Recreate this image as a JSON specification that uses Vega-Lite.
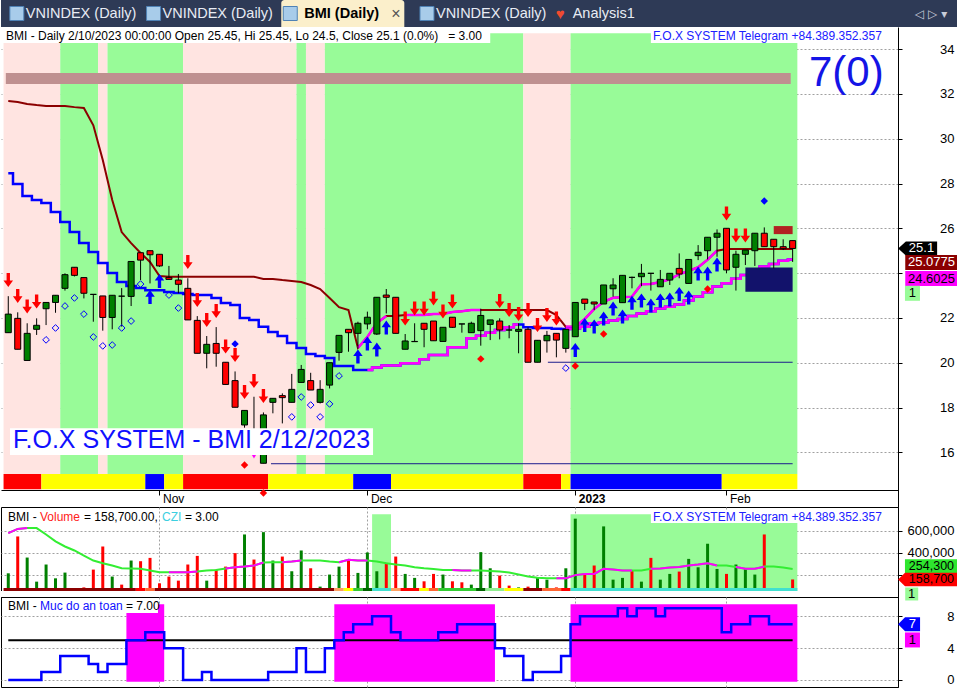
{
"$schema":"https://vega.github.io/schema/vega-lite/v6.json",
"padding":0,"background":"#ffffff","spacing":0,"bounds":"flush",
"config":{"font":"Liberation Sans","view":{"stroke":null}},
"resolve":{"scale":{"x":"independent","y":"independent","color":"independent"}},
"datasets":{
"tabs":[{"t":"a","l":"VNINDEX (Daily)","k":"tab"},{"t":"b","l":"VNINDEX (Daily)","k":"tab"},{"t":"c","l":"BMI (Daily)","k":"on"},{"t":"d","l":"VNINDEX (Daily)","k":"tab"},{"t":"e","l":"Analysis1","k":"ana"}],
"bands":[{"s":"bear","a":-0.5,"b":5.5},{"s":"bull","a":5.5,"b":9.5},{"s":"bear","a":9.5,"b":10.5},{"s":"bull","a":10.5,"b":18.5},{"s":"bear","a":18.5,"b":30.5},{"s":"bull","a":30.5,"b":31.5},{"s":"bear","a":31.5,"b":33.5},{"s":"bull","a":33.5,"b":54.5},{"s":"bear","a":54.5,"b":59.5},{"s":"bull","a":59.5,"b":83.5}],
"strip":[{"s":"sell","a":-0.5,"b":3.5},{"s":"neutral","a":3.5,"b":14.5},{"s":"buy","a":14.5,"b":16.5},{"s":"neutral","a":16.5,"b":18.5},{"s":"sell","a":18.5,"b":27.5},{"s":"neutral","a":27.5,"b":36.5},{"s":"buy","a":36.5,"b":40.5},{"s":"neutral","a":40.5,"b":54.5},{"s":"sell","a":54.5,"b":58.5},{"s":"neutral","a":58.5,"b":59.5},{"s":"buy","a":59.5,"b":75.5},{"s":"neutral","a":75.5,"b":83.5}],
"vstrip":[{"k":"c1","a":-0.5,"b":13.5},{"k":"c2","a":13.5,"b":14.5},{"k":"c3","a":14.5,"b":15.5},{"k":"c1","a":15.5,"b":34.5},{"k":"c4","a":34.5,"b":35.5},{"k":"c5","a":35.5,"b":36.5},{"k":"c6","a":36.5,"b":37.5},{"k":"c7","a":37.5,"b":38.5},{"k":"c8","a":38.5,"b":40.5},{"k":"c4","a":40.5,"b":41.5},{"k":"c2","a":41.5,"b":43.5},{"k":"c5","a":43.5,"b":44.5},{"k":"c3","a":44.5,"b":45.5},{"k":"c6","a":45.5,"b":49.5},{"k":"c7","a":49.5,"b":50.5},{"k":"c9","a":50.5,"b":52.5},{"k":"c5","a":52.5,"b":54.5},{"k":"c1","a":54.5,"b":56.5},{"k":"c3","a":56.5,"b":58.5},{"k":"c2","a":58.5,"b":59.5},{"k":"c8","a":59.5,"b":83.5}],
"vbands":[{"a":38.5,"b":40.5},{"a":59.5,"b":83.5}],
"sbands":[{"a":12.5,"b":16.5},{"a":34.5,"b":51.5},{"a":59.5,"b":83.5}],
"hlines":[{"a":57.1,"b":83,"p":20.02},{"a":27.8,"b":83,"p":15.49}],
"sells":[{"i":0,"p":23.69},{"i":1,"p":22.98},{"i":2,"p":22.51},{"i":3,"p":22.73},{"i":19,"p":24.5},{"i":20,"p":22.8},{"i":21,"p":21.91},{"i":22,"p":22.31},{"i":23,"p":20.72},{"i":24,"p":20.34},{"i":25,"p":18.69},{"i":26,"p":19.18},{"i":27,"p":18.51},{"i":42,"p":21.97},{"i":43,"p":22.42},{"i":44,"p":22.42},{"i":45,"p":22.87},{"i":46,"p":22.29},{"i":47,"p":22.73},{"i":52,"p":22.75},{"i":53,"p":22.35},{"i":54,"p":22.17},{"i":55,"p":22.35},{"i":56,"p":21.68},{"i":57,"p":22.13},{"i":58,"p":21.97},{"i":76,"p":26.66},{"i":77,"p":25.68},{"i":78,"p":25.68}],
"buys":[{"i":15,"p":22.93},{"i":16,"p":23.65},{"i":37,"p":20.28},{"i":38,"p":20.86},{"i":39,"p":20.59},{"i":40,"p":21.57},{"i":60,"p":20.57},{"i":61,"p":21.68},{"i":62,"p":21.62},{"i":63,"p":21.97},{"i":64,"p":22.42},{"i":65,"p":22.06},{"i":66,"p":22.68},{"i":67,"p":22.78},{"i":68,"p":22.55},{"i":69,"p":22.78},{"i":70,"p":22.82},{"i":71,"p":23.07},{"i":72,"p":22.91},{"i":73,"p":23.98},{"i":74,"p":23.98},{"i":75,"p":24.38}],
"hdia":[{"i":4,"p":21.02},{"i":5,"p":21.55},{"i":6,"p":22.53},{"i":7,"p":22.89},{"i":8,"p":22.17},{"i":9,"p":21.15},{"i":10,"p":20.75},{"i":11,"p":20.79},{"i":12,"p":21.55},{"i":13,"p":21.86},{"i":14,"p":23.51},{"i":17,"p":23.02},{"i":18,"p":22.44},{"i":30,"p":17.58},{"i":31,"p":18.47},{"i":32,"p":18.11},{"i":33,"p":17.58},{"i":34,"p":18.16},{"i":35,"p":19.41},{"i":59,"p":19.76}],
"rdia":[{"i":25,"p":15.43},{"i":27,"p":14.18},{"i":50,"p":20.17},{"i":60,"p":19.85},{"i":63,"p":21.28},{"i":74,"p":23.29}],
"bdia":[{"i":24,"p":20.84},{"i":80,"p":27.22}],
"mdot":[{"i":26,"p":15.88}],
"bars":[
{"i":0,"o":21.34,"h":22.97,"l":21.34,"c":22.17,"v":214500,"ma":578000,"mam":578000,"t1":31.68,"t2":28.46,"s":0},
{"i":1,"o":21.98,"h":22.25,"l":20.6,"c":20.6,"v":548000,"ma":616000,"mam":616000,"t1":31.64,"t2":27.98,"s":0},
{"i":2,"o":20.1,"h":21.76,"l":20.1,"c":21.31,"v":357000,"ma":624000,"mam":624000,"t1":31.55,"t2":27.44,"s":0},
{"i":3,"o":21.49,"h":21.98,"l":21.24,"c":21.67,"v":139000,"ma":624000,"t1":31.5,"t2":27.26,"s":0},
{"i":4,"o":22.41,"h":22.69,"l":21.68,"c":22.69,"v":294000,"ma":566000,"t1":31.46,"t2":27.13,"s":1},
{"i":5,"o":22.69,"h":23.01,"l":22.23,"c":23.01,"v":169000,"ma":503000,"t1":31.46,"t2":26.73,"s":1},
{"i":6,"o":23.32,"h":23.99,"l":23.22,"c":23.93,"v":221000,"ma":457000,"t1":31.46,"t2":26.28,"s":3},
{"i":7,"o":24.26,"h":24.26,"l":23.85,"c":23.9,"v":30000,"ma":421000,"t1":31.41,"t2":25.83,"s":3},
{"i":8,"o":23.8,"h":23.8,"l":22.87,"c":23.1,"v":87000,"ma":375000,"t1":31.37,"t2":25.34,"s":3},
{"i":9,"o":23.05,"h":23.05,"l":21.83,"c":23.05,"v":248000,"ma":330000,"t1":30.6,"t2":24.94,"s":2},
{"i":10,"o":22.98,"h":22.98,"l":21.43,"c":22.02,"v":457000,"ma":305000,"t1":29.05,"t2":24.45,"s":1},
{"i":11,"o":22.02,"h":23.01,"l":21.49,"c":23.01,"v":185000,"ma":285000,"t1":27.26,"t2":24.0,"s":2},
{"i":12,"o":22.97,"h":23.33,"l":21.61,"c":22.97,"v":112000,"ma":260000,"t1":25.83,"t2":23.6,"s":2},
{"i":13,"o":22.96,"h":24.52,"l":22.53,"c":24.52,"v":330000,"ma":257000,"t1":25.34,"t2":23.42,"s":5},
{"i":14,"o":24.91,"h":24.91,"l":23.69,"c":24.58,"v":324000,"ma":255000,"t1":24.9,"t2":23.33,"s":5},
{"i":15,"o":25.0,"h":25.0,"l":23.54,"c":24.82,"v":354000,"ma":239000,"t1":24.5,"t2":23.24,"s":6},
{"i":16,"o":24.84,"h":24.84,"l":24.28,"c":24.32,"v":124000,"ma":224000,"t1":23.87,"t2":23.24,"s":6},
{"i":17,"o":23.81,"h":24.32,"l":23.72,"c":23.72,"v":185000,"ma":224000,"mam":224000,"t1":23.84,"t2":23.16,"s":4},
{"i":18,"o":23.69,"h":23.96,"l":23.1,"c":23.5,"v":148000,"ma":224000,"mam":224000,"t1":23.84,"t2":23.11,"s":4},
{"i":19,"o":23.32,"h":23.77,"l":21.91,"c":21.91,"v":294000,"ma":224000,"mam":224000,"t1":23.84,"t2":23.07,"s":0},
{"i":20,"o":21.89,"h":22.08,"l":20.42,"c":20.42,"v":372000,"ma":230000,"mam":230000,"t1":23.84,"t2":23.02,"s":0},
{"i":21,"o":20.42,"h":21.19,"l":19.75,"c":20.82,"v":148000,"ma":239000,"t1":23.84,"t2":23.02,"s":1},
{"i":22,"o":20.86,"h":21.59,"l":19.82,"c":20.42,"v":248000,"ma":245000,"t1":23.84,"t2":22.89,"s":0},
{"i":23,"o":20.02,"h":20.02,"l":19.03,"c":19.03,"v":275000,"ma":257000,"mam":257000,"t1":23.84,"t2":22.67,"s":0},
{"i":24,"o":19.2,"h":19.61,"l":18.01,"c":18.01,"v":397000,"ma":269000,"mam":269000,"t1":23.84,"t2":22.58,"s":0},
{"i":25,"o":17.22,"h":17.87,"l":17.1,"c":17.87,"v":566000,"ma":275000,"mam":275000,"t1":23.84,"t2":22.0,"s":0},
{"i":26,"o":16.9,"h":18.48,"l":16.3,"c":16.6,"v":339000,"ma":285000,"mam":285000,"t1":23.84,"t2":21.91,"s":0},
{"i":27,"o":15.51,"h":17.78,"l":15.51,"c":17.67,"v":587000,"ma":312000,"mam":312000,"t1":23.74,"t2":21.6,"s":0},
{"i":28,"o":18.23,"h":18.41,"l":17.74,"c":18.41,"v":330000,"ma":315000,"t1":23.74,"t2":21.37,"s":1},
{"i":29,"o":18.53,"h":18.63,"l":17.29,"c":18.44,"v":366000,"ma":315000,"mam":315000,"t1":23.69,"t2":21.19,"s":1},
{"i":30,"o":18.23,"h":19.5,"l":18.23,"c":18.81,"v":233000,"ma":321000,"mam":321000,"t1":23.65,"t2":20.88,"s":1},
{"i":31,"o":19.12,"h":19.9,"l":19.12,"c":19.7,"v":421000,"ma":330000,"mam":330000,"t1":23.6,"t2":20.66,"s":4},
{"i":32,"o":19.2,"h":19.55,"l":18.78,"c":18.78,"v":260000,"ma":330000,"t1":23.47,"t2":20.39,"s":1},
{"i":33,"o":18.23,"h":19.22,"l":18.18,"c":18.81,"v":94000,"ma":330000,"t1":23.29,"t2":20.3,"s":1},
{"i":34,"o":19.0,"h":20.0,"l":18.85,"c":20.0,"v":203000,"ma":321000,"t1":22.89,"t2":20.21,"s":4},
{"i":35,"o":20.46,"h":21.22,"l":20.09,"c":21.22,"v":275000,"ma":315000,"mam":315000,"t1":22.48,"t2":19.85,"s":5},
{"i":36,"o":21.49,"h":21.49,"l":20.49,"c":21.34,"v":339000,"ma":336000,"mam":336000,"t1":22.35,"t2":19.85,"s":6},
{"i":37,"o":21.31,"h":21.83,"l":20.64,"c":21.76,"v":218000,"ma":330000,"mam":330000,"t1":20.66,"t1m":20.66,"t2":19.67,"s":7},
{"i":38,"o":21.73,"h":22.28,"l":21.49,"c":22.03,"v":403000,"ma":330000,"mam":330000,"t1":21.15,"t1m":21.15,"t2":19.67,"t2m":19.67,"s":7},
{"i":39,"o":21.28,"h":22.92,"l":21.24,"c":22.92,"v":233000,"ma":321000,"t1":21.77,"t1m":21.77,"t2":19.79,"t2m":19.79,"s":8},
{"i":40,"o":23.02,"h":23.29,"l":22.2,"c":22.92,"v":309000,"ma":305000,"t1":22.08,"t1m":22.08,"t2":19.87,"t2m":19.87,"s":8},
{"i":41,"o":22.92,"h":22.92,"l":21.31,"c":21.31,"v":366000,"ma":294000,"t1":22.08,"t2":19.87,"t2m":19.87,"s":6},
{"i":42,"o":20.6,"h":21.28,"l":20.6,"c":20.97,"v":209000,"ma":285000,"t1":22.13,"t1m":22.13,"t2":19.97,"t2m":19.97,"s":5},
{"i":43,"o":20.94,"h":21.76,"l":20.94,"c":20.95,"v":173000,"ma":269000,"t1":22.13,"t1m":22.13,"t2":19.97,"t2m":19.97,"s":5},
{"i":44,"o":21.76,"h":21.76,"l":20.69,"c":21.49,"v":142000,"ma":260000,"t1":22.13,"t1m":22.13,"t2":20.15,"t2m":20.15,"s":5},
{"i":45,"o":21.86,"h":21.86,"l":20.98,"c":20.98,"v":209000,"ma":253000,"t1":22.17,"t1m":22.17,"t2":20.34,"t2m":20.34,"s":5},
{"i":46,"o":20.95,"h":21.58,"l":20.95,"c":21.58,"v":203000,"ma":245000,"t1":22.17,"t1m":22.17,"t2":20.34,"t2m":20.34,"s":6},
{"i":47,"o":22.03,"h":22.03,"l":21.55,"c":21.58,"v":142000,"ma":244000,"mam":244000,"t1":22.26,"t1m":22.26,"t2":20.69,"t2m":20.69,"s":6},
{"i":48,"o":21.73,"h":21.73,"l":21.34,"c":21.73,"v":133000,"ma":239000,"mam":239000,"t1":22.3,"t1m":22.3,"t2":20.69,"t2m":20.69,"s":7},
{"i":49,"o":21.34,"h":21.83,"l":21.34,"c":21.76,"v":112000,"ma":239000,"mam":239000,"t1":22.35,"t1m":22.35,"t2":21.09,"t2m":21.09,"s":7},
{"i":50,"o":21.43,"h":22.41,"l":20.76,"c":22.11,"v":406000,"ma":239000,"t1":22.35,"t1m":22.35,"t2":21.2,"t2m":21.2,"s":7},
{"i":51,"o":21.71,"h":21.91,"l":21.01,"c":21.91,"v":260000,"ma":235000,"t1":22.35,"t2":21.34,"t2m":21.34,"s":7},
{"i":52,"o":21.86,"h":21.98,"l":21.04,"c":21.46,"v":194000,"ma":230000,"t1":22.35,"t2":21.46,"t2m":21.46,"s":4},
{"i":53,"o":21.46,"h":21.68,"l":21.09,"c":21.46,"v":103000,"ma":221000,"t1":22.35,"t2":21.58,"t2m":21.58,"s":3},
{"i":54,"o":21.4,"h":21.76,"l":20.42,"c":21.49,"v":87000,"ma":203000,"t1":22.35,"t2":21.71,"t2m":21.71,"s":3},
{"i":55,"o":21.49,"h":21.58,"l":20.02,"c":20.02,"v":94000,"ma":185000,"t1":22.35,"t2":21.58,"s":0},
{"i":56,"o":20.02,"h":21.0,"l":20.02,"c":21.0,"v":173000,"ma":175000,"t1":22.35,"t2":21.55,"s":1},
{"i":57,"o":20.98,"h":21.42,"l":20.45,"c":21.22,"v":157000,"ma":169000,"t1":22.35,"t2":21.55,"s":1},
{"i":58,"o":21.31,"h":21.31,"l":20.24,"c":21.01,"v":87000,"ma":169000,"mam":169000,"t1":22.13,"t2":21.52,"s":1},
{"i":59,"o":20.64,"h":21.49,"l":20.45,"c":21.49,"v":260000,"ma":169000,"mam":169000,"t1":21.6,"t1m":21.6,"t2":21.5,"t2m":21.5,"s":3},
{"i":60,"o":21.16,"h":22.69,"l":21.16,"c":22.69,"v":709000,"ma":198000,"mam":198000,"t1":21.62,"t1m":21.62,"t2":21.53,"t2m":21.53,"s":7},
{"i":61,"o":22.84,"h":22.84,"l":22.35,"c":22.65,"v":203000,"ma":209000,"mam":209000,"t1":21.95,"t1m":21.95,"t2":21.6,"t2m":21.6,"s":8},
{"i":62,"o":22.71,"h":22.71,"l":22.35,"c":22.62,"v":285000,"ma":209000,"mam":209000,"t1":22.4,"t1m":22.4,"t2":21.76,"t2m":21.76,"s":8},
{"i":63,"o":22.62,"h":23.47,"l":22.62,"c":23.47,"v":639000,"ma":255000,"mam":255000,"t1":22.72,"t1m":22.72,"t2":21.8,"t2m":21.8,"s":8},
{"i":64,"o":23.3,"h":23.77,"l":22.95,"c":23.47,"v":157000,"ma":248000,"mam":248000,"t1":22.9,"t1m":22.9,"t2":21.88,"t2m":21.88,"s":8},
{"i":65,"o":22.68,"h":23.9,"l":22.68,"c":23.9,"v":173000,"ma":239000,"mam":239000,"t1":22.92,"t1m":22.92,"t2":21.95,"t2m":21.95,"s":9},
{"i":66,"o":23.81,"h":23.84,"l":23.32,"c":23.81,"v":239000,"ma":239000,"mam":239000,"t1":22.95,"t1m":22.95,"t2":22.08,"t2m":22.08,"s":8},
{"i":67,"o":23.84,"h":24.41,"l":23.42,"c":23.99,"v":139000,"ma":239000,"t1":23.5,"t1m":23.5,"t2":22.2,"t2m":22.2,"s":9},
{"i":68,"o":23.99,"h":23.99,"l":23.22,"c":23.99,"v":354000,"ma":255000,"mam":255000,"t1":23.51,"t1m":23.51,"t2":22.3,"t2m":22.3,"s":9},
{"i":69,"o":23.39,"h":24.14,"l":23.39,"c":23.72,"v":157000,"ma":257000,"mam":257000,"t1":23.6,"t1m":23.6,"t2":22.42,"t2m":22.42,"s":8},
{"i":70,"o":23.69,"h":23.99,"l":23.47,"c":23.99,"v":209000,"ma":266000,"mam":266000,"t1":23.72,"t1m":23.72,"t2":22.5,"t2m":22.5,"s":9},
{"i":71,"o":24.21,"h":24.88,"l":23.77,"c":23.96,"v":230000,"ma":271000,"mam":271000,"t1":23.95,"t1m":23.95,"t2":22.6,"t2m":22.6,"s":9},
{"i":72,"o":23.54,"h":24.61,"l":23.54,"c":24.61,"v":345000,"ma":285000,"mam":285000,"t1":24.1,"t1m":24.1,"t2":22.78,"t2m":22.78,"s":9},
{"i":73,"o":24.78,"h":25.25,"l":24.58,"c":24.93,"v":269000,"ma":294000,"mam":294000,"t1":24.26,"t1m":24.26,"t2":22.95,"t2m":22.95,"s":9},
{"i":74,"o":25.0,"h":25.6,"l":24.61,"c":25.6,"v":482000,"ma":305000,"mam":305000,"t1":24.6,"t1m":24.6,"t2":23.15,"t2m":23.15,"s":9},
{"i":75,"o":25.6,"h":25.95,"l":24.73,"c":25.78,"v":254000,"ma":285000,"mam":285000,"t1":25.0,"t1m":25.0,"t2":23.4,"t2m":23.4,"s":9},
{"i":76,"o":26.0,"h":26.0,"l":23.99,"c":24.14,"v":209000,"ma":285000,"t1":25.08,"t2":23.55,"t2m":23.55,"s":6},
{"i":77,"o":24.26,"h":25.0,"l":23.22,"c":24.84,"v":294000,"ma":271000,"mam":271000,"t1":25.08,"t2":23.75,"t2m":23.75,"s":7},
{"i":78,"o":24.84,"h":25.03,"l":24.36,"c":25.03,"v":254000,"ma":255000,"mam":255000,"t1":25.08,"t2":23.92,"t2m":23.92,"s":7},
{"i":79,"o":25.0,"h":25.78,"l":24.32,"c":25.78,"v":203000,"ma":255000,"mam":255000,"t1":25.08,"t2":24.1,"t2m":24.1,"s":8},
{"i":80,"o":25.78,"h":26.04,"l":25.18,"c":25.18,"v":566000,"ma":275000,"mam":275000,"t1":25.08,"t2":24.29,"t2m":24.29,"s":8},
{"i":81,"o":25.51,"h":25.51,"l":24.21,"c":25.18,"v":78000,"ma":275000,"t1":25.08,"t2":24.41,"t2m":24.41,"s":7},
{"i":82,"o":25.18,"h":25.51,"l":25.03,"c":25.09,"v":57000,"ma":266000,"t1":25.08,"t2":24.55,"t2m":24.55,"s":7},
{"i":83,"o":25.45,"h":25.45,"l":24.5,"c":25.1,"v":158700,"ma":254300,"t1":25.0775,"t2":24.6025,"t2m":24.6025,"s":7}
]},
"vconcat":[
{"width":957,"height":27,"view":{"fill":"#2E3A56","stroke":null},
 "data":{"name":"tabs"},
 "layer":[
  {"transform":[{"filter":"datum.k=='on'"}],"mark":{"type":"rect","color":"#FBEFCB","cornerRadiusTopLeft":3,"cornerRadiusTopRight":3},
   "encoding":{"x":{"field":"t","type":"nominal","scale":{"type":"band","domain":["a","b","c","d","e","f","g"],"paddingInner":0.1,"paddingOuter":0.05},"axis":null}}},
  {"transform":[{"filter":"datum.k!='ana'"}],"mark":{"type":"point","shape":"square","size":196,"filled":true,"color":"#A8CCEA","stroke":"#4F82B5","strokeWidth":1,"opacity":1,"xOffset":9},
   "encoding":{"x":{"field":"t","type":"nominal","bandPosition":0}}},
  {"transform":[{"filter":"datum.k=='ana'"}],"mark":{"type":"text","text":"♥","color":"#F04A30","fontSize":15,"align":"left","dx":1},
   "encoding":{"x":{"field":"t","type":"nominal","bandPosition":0}}},
  {"transform":[{"filter":"datum.k!='on'"}],"mark":{"type":"text","align":"left","dx":18,"fontSize":14.5,"color":"#E8ECF4"},
   "encoding":{"x":{"field":"t","type":"nominal","bandPosition":0},"text":{"field":"l"}}},
  {"transform":[{"filter":"datum.k=='on'"}],"mark":{"type":"text","align":"left","dx":23,"fontSize":14.5,"fontWeight":"bold","color":"#000000"},
   "encoding":{"x":{"field":"t","type":"nominal","bandPosition":0},"text":{"field":"l"}}},
  {"transform":[{"filter":"datum.k=='on'"}],"mark":{"type":"text","text":"×","align":"left","dx":110,"fontSize":16,"color":"#555555"},
   "encoding":{"x":{"field":"t","type":"nominal","bandPosition":0}}},
  {"data":{"values":[{"t":"g"}]},"mark":{"type":"text","text":"◁  ▷  ▾","align":"right","dx":-4,"fontSize":12,"font":"DejaVu Sans","color":"#C8CCD8"},
   "encoding":{"x":{"field":"t","type":"nominal","bandPosition":1}}}
 ]},
{"width":897,"height":480,"view":{"stroke":null},
 "resolve":{"scale":{"color":"independent"}},
 "layer":[
  {"data":{"name":"bands"},"mark":{"type":"rect"},
   "encoding":{"x":{"field":"a","type":"quantitative","scale":{"domain":[-0.77,94.15],"nice":false,"zero":false,"padding":0},
      "axis":{"orient":"bottom","offset":-17,"values":[16,38,60,76],"labelExpr":"datum.value==16?'Nov':datum.value==38?'Dec':datum.value==60?'2023':'Feb'","labelAlign":"left","labelBaseline":"top","labelOffset":3,"labelPadding":-2,"tickSize":5,"tickColor":"#000000","domainColor":"#000000","labelColor":"#000000","labelFontSize":12,"labelFontWeight":{"condition":{"test":"datum.value==60","value":"bold"},"value":"normal"},"grid":false,"title":null,"labelFlush":false,"labelOverlap":false}},
    "x2":{"field":"b"},
    "y":{"datum":34.71,"type":"quantitative","scale":{"domain":[13.558,34.987],"nice":false,"zero":false},
      "axis":{"orient":"right","values":[16,18,20,22,24,26,28,30,32,34],"labelExpr":"datum.value==24?'':datum.label","tickSize":4,"labelAlign":"right","labelBaseline":"middle","labelPadding":52,"labelFontSize":13,"labelColor":"#000000","tickColor":"#000000","domainColor":"#000000","grid":true,"gridColor":"#A0A0A0","gridDash":[2,2],"title":null}},
    "y2":{"datum":15.03},
    "color":{"field":"s","type":"nominal","scale":{"domain":["bear","bull"],"range":["#FFE4E1","#98FB98"]},"legend":null}}},
  {"data":{"values":[{"a":-0.77,"b":51},{"a":68.0,"b":92.8}]},"mark":{"type":"rect","color":"#FFFFFF"},
   "encoding":{"x":{"field":"a","type":"quantitative"},"x2":{"field":"b"},"y":{"datum":34.987},"y2":{"datum":34.27}}},
  {"data":{"values":[{}]},"mark":{"type":"rect","color":"#BF9090"},
   "encoding":{"x":{"datum":-0.26},"x2":{"datum":82.8},"y":{"datum":32.93},"y2":{"datum":32.44}}},
  {"data":{"name":"strip"},"mark":{"type":"rect"},
   "encoding":{"x":{"field":"a","type":"quantitative"},"x2":{"field":"b"},"y":{"datum":15.03},"y2":{"datum":14.35},
    "color":{"field":"s","type":"nominal","scale":{"domain":["sell","neutral","buy"],"range":["#FF0000","#FFFF00","#0000FF"]},"legend":null}}},
  {"data":{"name":"hlines"},"mark":{"type":"rule","color":"#1C1C8C","strokeWidth":1},
   "encoding":{"x":{"field":"a","type":"quantitative"},"x2":{"field":"b"},"y":{"field":"p","type":"quantitative"}}},
  {"data":{"name":"bars"},"mark":{"type":"line","color":"#8B0000","strokeWidth":2},
   "encoding":{"x":{"field":"i","type":"quantitative"},"y":{"field":"t1","type":"quantitative"}}},
  {"data":{"name":"bars"},"mark":{"type":"line","color":"#FF00FF","strokeWidth":2.5,"invalid":"break-paths-show-domains"},
   "encoding":{"x":{"field":"i","type":"quantitative"},"y":{"field":"t1m","type":"quantitative"}}},
  {"data":{"name":"bars"},"mark":{"type":"line","color":"#0000FF","strokeWidth":2.5,"interpolate":"step"},
   "encoding":{"x":{"field":"i","type":"quantitative"},"y":{"field":"t2","type":"quantitative"}}},
  {"data":{"name":"bars"},"mark":{"type":"line","color":"#FF00FF","strokeWidth":2.5,"interpolate":"step","invalid":"break-paths-show-domains"},
   "encoding":{"x":{"field":"i","type":"quantitative"},"y":{"field":"t2m","type":"quantitative"}}},
  {"data":{"values":[{}]},"mark":{"type":"rect","color":"#12126B"},
   "encoding":{"x":{"datum":78},"x2":{"datum":83},"y":{"datum":24.25},"y2":{"datum":23.17}}},
  {"data":{"values":[{}]},"mark":{"type":"rect","color":"#B22222"},
   "encoding":{"x":{"datum":81},"x2":{"datum":83},"y":{"datum":26.1},"y2":{"datum":25.74}}},
  {"data":{"name":"bars"},"mark":{"type":"rule","color":"#000000","strokeWidth":1},
   "encoding":{"x":{"field":"i","type":"quantitative"},"y":{"field":"l","type":"quantitative"},"y2":{"field":"h"}}},
  {"data":{"name":"bars"},"mark":{"type":"bar","width":6,"orient":"vertical","stroke":"#000000","strokeWidth":1},
   "encoding":{"x":{"field":"i","type":"quantitative"},"y":{"field":"o","type":"quantitative"},"y2":{"field":"c"},
    "color":{"condition":{"test":"datum.c>datum.o","value":"#008000"},"value":"#FF0000"}}},
  {"data":{"name":"sells"},"mark":{"type":"point","shape":"M0,1L0.68,0.05L0.24,0.05L0.24,-1L-0.24,-1L-0.24,0.05L-0.68,0.05Z","size":196,"filled":true,"color":"#FF0000","opacity":1,"strokeWidth":0},
   "encoding":{"x":{"field":"i","type":"quantitative"},"y":{"field":"p","type":"quantitative"}}},
  {"data":{"name":"buys"},"mark":{"type":"point","shape":"M0,-1L0.68,-0.05L0.24,-0.05L0.24,1L-0.24,1L-0.24,-0.05L-0.68,-0.05Z","size":196,"filled":true,"color":"#0000FF","opacity":1,"strokeWidth":0},
   "encoding":{"x":{"field":"i","type":"quantitative"},"y":{"field":"p","type":"quantitative"}}},
  {"data":{"name":"hdia"},"mark":{"type":"point","shape":"diamond","size":45,"filled":false,"color":"#0000FF","opacity":1,"strokeWidth":1},
   "encoding":{"x":{"field":"i","type":"quantitative"},"y":{"field":"p","type":"quantitative"}}},
  {"data":{"name":"rdia"},"mark":{"type":"point","shape":"diamond","size":55,"filled":true,"color":"#FF0000","opacity":1},
   "encoding":{"x":{"field":"i","type":"quantitative"},"y":{"field":"p","type":"quantitative"}}},
  {"data":{"name":"bdia"},"mark":{"type":"point","shape":"diamond","size":55,"filled":true,"color":"#0000FF","opacity":1},
   "encoding":{"x":{"field":"i","type":"quantitative"},"y":{"field":"p","type":"quantitative"}}},
  {"data":{"name":"mdot"},"mark":{"type":"point","shape":"triangle-down","size":70,"filled":true,"color":"#FF00FF","opacity":1},
   "encoding":{"x":{"field":"i","type":"quantitative"},"y":{"field":"p","type":"quantitative"}}},
  {"data":{"values":[{}]},"mark":{"type":"rect","color":"#FFFFFF"},
   "encoding":{"x":{"datum":0.18},"x2":{"datum":38.6},"y":{"datum":17.07},"y2":{"datum":15.88}}},
  {"data":{"values":[{}]},"mark":{"type":"text","text":"F.O.X SYSTEM - BMI 2/12/2023","color":"#1010FF","fontSize":25,"align":"left","baseline":"alphabetic"},
   "encoding":{"x":{"datum":0.5},"y":{"datum":16.17}}},
  {"data":{"values":[{}]},"mark":{"type":"text","text":"BMI - Daily 2/10/2023 00:00:00 Open 25.45, Hi 25.45, Lo 24.5, Close 25.1 (0.0%) \u00a0 = 3.00","color":"#000000","fontSize":12,"align":"left","baseline":"middle","dx":5},
   "encoding":{"x":{"datum":-0.77},"y":{"datum":34.6}}},
  {"data":{"values":[{}]},"mark":{"type":"text","text":"F.O.X SYSTEM Telegram +84.389.352.357","color":"#2020FF","fontSize":12,"align":"left","baseline":"middle"},
   "encoding":{"x":{"datum":68.22},"y":{"datum":34.6}}},
  {"data":{"values":[{}]},"mark":{"type":"text","text":"7(0)","color":"#1414E6","fontSize":42,"align":"left","baseline":"alphabetic"},
   "encoding":{"x":{"datum":84.73},"y":{"datum":32.35}}},
  {"data":{"values":[{}]},"mark":{"type":"point","shape":"M-1,0L-0.605,-0.359L1,-0.359L1,0.359L-0.605,0.359Z","size":1521,"filled":true,"color":"#000000","opacity":1,"strokeWidth":0},
   "encoding":{"x":{"datum":96.23},"y":{"datum":25.1}}},
  {"data":{"values":[{}]},"mark":{"type":"text","text":"25.1","color":"#FFFFFF","fontSize":13,"align":"center","baseline":"middle"},
   "encoding":{"x":{"datum":96.64},"y":{"datum":25.1}}},
  {"data":{"values":[{}]},"mark":{"type":"point","shape":"M-1,-0.286L1,-0.286L1,0.286L-1,0.286Z","size":2746,"filled":true,"color":"#8B0000","opacity":1,"strokeWidth":0,"yOffset":13.5},
   "encoding":{"x":{"datum":97.69},"y":{"datum":25.0775}}},
  {"data":{"values":[{}]},"mark":{"type":"text","text":"25.0775","color":"#FFFFFF","fontSize":13,"align":"center","baseline":"middle","dy":13.5},
   "encoding":{"x":{"datum":97.69},"y":{"datum":25.0775}}},
  {"data":{"values":[{}]},"mark":{"type":"point","shape":"M-1,-0.286L1,-0.286L1,0.286L-1,0.286Z","size":2746,"filled":true,"color":"#FF00FF","opacity":1,"strokeWidth":0,"yOffset":18.9},
   "encoding":{"x":{"datum":97.69},"y":{"datum":24.6025}}},
  {"data":{"values":[{}]},"mark":{"type":"text","text":"24.6025","color":"#000000","fontSize":13,"align":"center","baseline":"middle","dy":18.9},
   "encoding":{"x":{"datum":97.69},"y":{"datum":24.6025}}},
  {"data":{"values":[{}]},"mark":{"type":"point","shape":"square","size":225,"filled":true,"color":"#98FB98","opacity":1,"strokeWidth":0,"yOffset":33.7},
   "encoding":{"x":{"datum":95.68},"y":{"datum":24.6025}}},
  {"data":{"values":[{}]},"mark":{"type":"text","text":"1","color":"#000000","fontSize":13,"align":"center","baseline":"middle","dy":33.7},
   "encoding":{"x":{"datum":95.68},"y":{"datum":24.6025}}}
 ]},
{"width":897,"height":90,"view":{"stroke":"#000000","strokeWidth":1},
 "layer":[
  {"data":{"name":"vbands"},"mark":{"type":"rect","color":"#98FB98"},
   "encoding":{"x":{"field":"a","type":"quantitative","scale":{"domain":[-0.77,94.15],"nice":false,"zero":false,"padding":0},
      "axis":{"orient":"bottom","values":[16,38,60,76],"labels":false,"ticks":false,"domain":false,"grid":true,"gridColor":"#A0A0A0","gridDash":[2,2],"title":null}},
    "x2":{"field":"b"},
    "y":{"datum":748400,"type":"quantitative","scale":{"domain":[0,814500],"nice":false,"zero":false},
      "axis":{"orient":"right","values":[200000,400000,600000],"format":",d","labelExpr":"datum.value==200000?'':datum.label","tickSize":4,"labelAlign":"right","labelBaseline":"middle","labelPadding":52,"labelFontSize":13,"labelColor":"#000000","tickColor":"#000000","domainColor":"#000000","grid":true,"gridColor":"#A0A0A0","gridDash":[2,2],"title":null}},
    "y2":{"datum":54300}}},
  {"data":{"name":"bars"},"mark":{"type":"bar","width":3,"orient":"vertical"},
   "encoding":{"x":{"field":"i","type":"quantitative"},"y":{"field":"v","type":"quantitative"},
    "color":{"condition":{"test":"datum.c>datum.o","value":"#008000"},"value":"#FF0000"}}},
  {"data":{"values":[{}]},"mark":{"type":"rect","color":"#FFFFFF"},
   "encoding":{"x":{"datum":-0.77},"x2":{"datum":94.15},"y":{"datum":54300},"y2":{"datum":500}}},
  {"data":{"name":"vstrip"},"mark":{"type":"rect"},
   "encoding":{"x":{"field":"a","type":"quantitative"},"x2":{"field":"b"},"y":{"datum":81450},"y2":{"datum":54300},
    "color":{"field":"k","type":"nominal","scale":{"domain":["c1","c2","c3","c4","c5","c6","c7","c8","c9"],"range":["#8B0000","#FF0000","#FF6633","#FFA060","#FFFF00","#33CC33","#006400","#40E0D0","#90EE90"]},"legend":null}}},
  {"data":{"name":"bars"},"mark":{"type":"line","color":"#33EE33","strokeWidth":2},
   "encoding":{"x":{"field":"i","type":"quantitative"},"y":{"field":"ma","type":"quantitative"}}},
  {"data":{"name":"bars"},"mark":{"type":"line","color":"#FF00FF","strokeWidth":2,"invalid":"break-paths-show-domains"},
   "encoding":{"x":{"field":"i","type":"quantitative"},"y":{"field":"mam","type":"quantitative"}}},
  {"data":{"values":[{}]},"mark":{"type":"text","text":"BMI -","color":"#000000","fontSize":12,"align":"left","baseline":"middle","dx":7},
   "encoding":{"x":{"datum":-0.77},"y":{"datum":724000}}},
  {"data":{"values":[{}]},"mark":{"type":"text","text":"Volume","color":"#FF2020","fontSize":12,"align":"left","baseline":"middle","dx":39},
   "encoding":{"x":{"datum":-0.77},"y":{"datum":724000}}},
  {"data":{"values":[{}]},"mark":{"type":"text","text":"= 158,700.00,","color":"#000000","fontSize":12,"align":"left","baseline":"middle","dx":83},
   "encoding":{"x":{"datum":-0.77},"y":{"datum":724000}}},
  {"data":{"values":[{}]},"mark":{"type":"text","text":"CZI","color":"#3CCFE0","fontSize":12,"align":"left","baseline":"middle","dx":161},
   "encoding":{"x":{"datum":-0.77},"y":{"datum":724000}}},
  {"data":{"values":[{}]},"mark":{"type":"text","text":"= 3.00","color":"#000000","fontSize":12,"align":"left","baseline":"middle","dx":184},
   "encoding":{"x":{"datum":-0.77},"y":{"datum":724000}}},
  {"data":{"values":[{}]},"mark":{"type":"rect","color":"#FFFFFF"},
   "encoding":{"x":{"datum":68.0},"x2":{"datum":92.8},"y":{"datum":782800},"y2":{"datum":669700}}},
  {"data":{"values":[{}]},"mark":{"type":"text","text":"F.O.X SYSTEM Telegram +84.389.352.357","color":"#2020FF","fontSize":12,"align":"left","baseline":"middle"},
   "encoding":{"x":{"datum":68.22},"y":{"datum":726700}}},
  {"data":{"values":[{}]},"mark":{"type":"point","shape":"M-1,-0.264L1,-0.264L1,0.264L-1,0.264Z","size":2809,"filled":true,"color":"#2EE62E","opacity":1,"strokeWidth":0,"yOffset":-2.6},
   "encoding":{"x":{"datum":97.69},"y":{"datum":254300}}},
  {"data":{"values":[{}]},"mark":{"type":"text","text":"254,300","color":"#000000","fontSize":12.5,"align":"center","baseline":"middle","dy":-2.6},
   "encoding":{"x":{"datum":97.69},"y":{"datum":254300}}},
  {"data":{"values":[{}]},"mark":{"type":"point","shape":"M-1,0L-0.767,-0.223L1,-0.223L1,0.223L-0.767,0.223Z","size":3600,"filled":true,"color":"#FF0000","opacity":1,"strokeWidth":0},
   "encoding":{"x":{"datum":97.33},"y":{"datum":158700}}},
  {"data":{"values":[{}]},"mark":{"type":"text","text":"158,700","color":"#000000","fontSize":12.5,"align":"center","baseline":"middle"},
   "encoding":{"x":{"datum":97.69},"y":{"datum":158700}}},
  {"data":{"values":[{}]},"mark":{"type":"point","shape":"square","size":169,"filled":true,"color":"#98FB98","opacity":1,"strokeWidth":0,"yOffset":-3},
   "encoding":{"x":{"datum":95.6},"y":{"datum":0}}},
  {"data":{"values":[{}]},"mark":{"type":"text","text":"1","color":"#000000","fontSize":13,"align":"center","baseline":"middle","dy":-3},
   "encoding":{"x":{"datum":95.6},"y":{"datum":0}}}
 ]},
{"width":897,"height":90,"view":{"stroke":"#000000","strokeWidth":1},
 "layer":[
  {"data":{"name":"sbands"},"mark":{"type":"rect","color":"#FF00FF"},
   "encoding":{"x":{"field":"a","type":"quantitative","scale":{"domain":[-0.77,94.15],"nice":false,"zero":false,"padding":0},
      "axis":{"orient":"bottom","values":[16,38,60,76],"labels":false,"ticks":false,"domain":false,"grid":true,"gridColor":"#A0A0A0","gridDash":[2,2],"title":null}},
    "x2":{"field":"b"},
    "y":{"datum":9.51,"type":"quantitative","scale":{"domain":[-0.879,10.42],"nice":false,"zero":false},
      "axis":{"orient":"right","values":[0,2,4,6,8],"format":"d","tickSize":4,"labelAlign":"right","labelBaseline":"middle","labelPadding":52,"labelFontSize":13,"labelColor":"#000000","tickColor":"#000000","domainColor":"#000000","grid":true,"gridColor":"#A0A0A0","gridDash":[2,2],"title":null}},
    "y2":{"datum":-0.21}}},
  {"data":{"values":[{}]},"mark":{"type":"rule","color":"#000000","strokeWidth":2},
   "encoding":{"x":{"datum":0},"x2":{"datum":83},"y":{"datum":5}}},
  {"data":{"name":"bars"},"mark":{"type":"line","color":"#0000FF","strokeWidth":2.5,"interpolate":"step"},
   "encoding":{"x":{"field":"i","type":"quantitative"},"y":{"field":"s","type":"quantitative"}}},
  {"data":{"values":[{}]},"mark":{"type":"rect","color":"#FFFFFF"},
   "encoding":{"x":{"datum":-0.24},"x2":{"datum":15.84},"y":{"datum":10.3},"y2":{"datum":8.41}}},
  {"data":{"values":[{}]},"mark":{"type":"text","text":"BMI -","color":"#000000","fontSize":12,"align":"left","baseline":"middle","dx":7},
   "encoding":{"x":{"datum":-0.77},"y":{"datum":9.29}}},
  {"data":{"values":[{}]},"mark":{"type":"text","text":"Muc do an toan","color":"#1010FF","fontSize":12,"align":"left","baseline":"middle","dx":39},
   "encoding":{"x":{"datum":-0.77},"y":{"datum":9.29}}},
  {"data":{"values":[{}]},"mark":{"type":"text","text":"= 7.00","color":"#000000","fontSize":12,"align":"left","baseline":"middle","dx":125},
   "encoding":{"x":{"datum":-0.77},"y":{"datum":9.29}}},
  {"data":{"values":[{}]},"mark":{"type":"point","shape":"M-1,0L-0.364,-0.636L1,-0.636L1,0.636L-0.364,0.636Z","size":484,"filled":true,"color":"#0000FF","opacity":1,"strokeWidth":0},
   "encoding":{"x":{"datum":95.32},"y":{"datum":7}}},
  {"data":{"values":[{}]},"mark":{"type":"text","text":"7","color":"#FFFFFF","fontSize":13,"align":"center","baseline":"middle"},
   "encoding":{"x":{"datum":95.68},"y":{"datum":7}}},
  {"data":{"values":[{}]},"mark":{"type":"point","shape":"square","size":225,"filled":true,"color":"#FF00FF","opacity":1,"strokeWidth":0,"yOffset":15.7},
   "encoding":{"x":{"datum":95.68},"y":{"datum":7}}},
  {"data":{"values":[{}]},"mark":{"type":"text","text":"1","color":"#000000","fontSize":13,"align":"center","baseline":"middle","dy":15.7},
   "encoding":{"x":{"datum":95.68},"y":{"datum":7}}}
 ]}
]
}
